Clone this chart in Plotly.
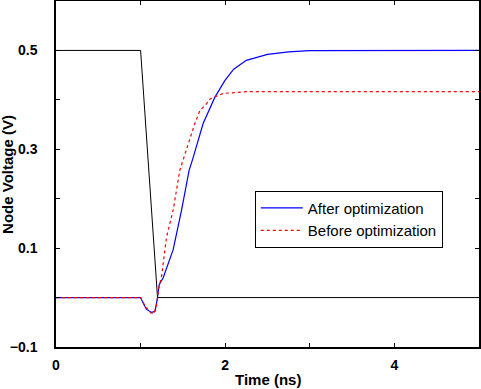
import plotly.graph_objects as go

# Input (black) waveform
t_in = [0.0, 1.0, 1.2, 5.0]
v_in = [0.5, 0.5, 0.0, 0.0]

# After optimization (blue)
t_after = [0.0, 1.0, 1.03, 1.07, 1.13, 1.17, 1.196, 1.22, 1.267, 1.385, 1.484, 1.574,
           1.614, 1.739, 1.877, 1.995, 2.1, 2.25, 2.5, 2.75, 3.0, 5.0]
v_after = [0.0, 0.0, -0.011, -0.024, -0.030, -0.028, -0.004, 0.026, 0.040, 0.097, 0.177, 0.258,
           0.279, 0.352, 0.405, 0.439, 0.462, 0.480, 0.492, 0.497, 0.4995, 0.5]

# Before optimization (red dotted)
t_before = [0.0, 1.0, 1.05, 1.11, 1.157, 1.19, 1.21, 1.248, 1.307, 1.385, 1.464, 1.503,
            1.583, 1.641, 1.70, 1.779, 1.82, 1.897, 1.98, 2.054, 2.16, 2.25, 5.0]
v_before = [0.0, 0.0, -0.016, -0.030, -0.033, -0.014, 0.016, 0.043, 0.123, 0.177, 0.258, 0.279,
            0.325, 0.352, 0.378, 0.392, 0.402, 0.408, 0.413, 0.414, 0.416, 0.4165, 0.4165]

x_ticks = [0, 1, 2, 3, 4, 5]
x_labels = ["0", "", "2", "", "4", ""]
y_ticks = [-0.1, 0.0, 0.1, 0.2, 0.3, 0.4, 0.5, 0.6]
y_labels = ["\u22120.1", "", "0.1", "", "0.3", "", "0.5", ""]

FONT = "Liberation Sans, Arial, Helvetica"

fig = go.Figure()
fig.add_trace(go.Scatter(x=t_in, y=v_in, mode="lines", line=dict(color="black", width=1),
                         showlegend=False))
fig.add_trace(go.Scatter(x=t_after, y=v_after, mode="lines", name="After optimization",
                         line=dict(color="#0000ff", width=1.2)))
fig.add_trace(go.Scatter(x=t_before, y=v_before, mode="lines", name="Before optimization",
                         line=dict(color="#ff0000", width=1.2, dash="dot")))

axis_common = dict(showline=True, linecolor="black", linewidth=1.5, mirror="ticks",
                   ticks="inside", ticklen=4, tickcolor="black", showgrid=False, zeroline=False,
                   automargin=False,
                   tickfont=dict(family=FONT, size=14, color="black", weight="bold"))

fig.update_layout(
    width=481, height=389,
    margin=dict(l=56, r=2, t=1, b=42),
    paper_bgcolor="white", plot_bgcolor="white",
    xaxis=dict(range=[0, 5], tickvals=x_ticks, ticktext=x_labels,
               ticklabelstandoff=4, **axis_common),
    yaxis=dict(range=[-0.1, 0.6], tickvals=y_ticks, ticktext=y_labels,
               ticklabelstandoff=14, **axis_common),
    legend=dict(x=0.47, y=0.452, xanchor="left", yanchor="top", bordercolor="black", borderwidth=1,
                bgcolor="white", font=dict(family=FONT, size=15, color="black"),
                tracegroupgap=0, itemwidth=42),
    annotations=[
        dict(text="<b>Time (ns)</b>", xref="paper", yref="paper", x=0.5, y=-0.095,
             xanchor="center", yanchor="middle", showarrow=False,
             font=dict(family=FONT, size=15, color="black")),
        dict(text="<b>Node Voltage (V)</b>", xref="paper", yref="paper", x=-0.116, y=0.5,
             xanchor="center", yanchor="middle", textangle=-90, showarrow=False,
             font=dict(family=FONT, size=15, color="black")),
    ],
)

fig.write_html("out.html", config={"displayModeBar": False},
               post_script="document.body.style.margin='0';document.body.style.overflow='hidden';")
